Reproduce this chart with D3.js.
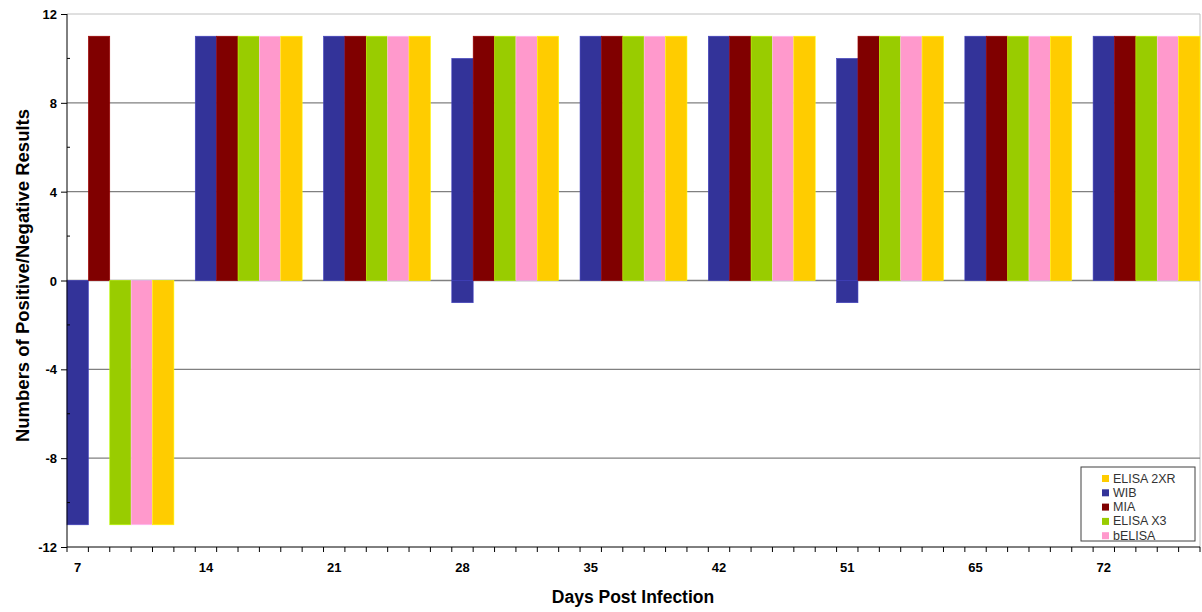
<!DOCTYPE html>
<html>
<head>
<meta charset="utf-8">
<script src="https://cdn.jsdelivr.net/npm/d3@7"></script>
<style>
  body { margin: 0; background: #fff; }
  text { font-family: Arial, "Liberation Sans", sans-serif; }
</style>
</head>
<body>
<svg id="chart" width="1202" height="612"></svg>
<script>
// data
DAYS = ["7", "14", "21", "28", "35", "42", "51", "65", "72"]
SERIES = ["WIB", "MIA", "ELISA X3", "bELISA", "ELISA 2XR"]
COLORS = ["#333399", "#800000", "#99cc00", "#ff99cc", "#ffcc00"]
LEGEND_ORDER = ["ELISA 2XR", "WIB", "MIA", "ELISA X3", "bELISA"]
Y_TICKS = [12, 8, 4, 0, -4, -8, -12]

// positive results (up) and negative results (down), one row per series
POSITIVE = [
  [0, 11, 11, 10, 11, 11, 10, 11, 11],
  [11, 11, 11, 11, 11, 11, 11, 11, 11],
  [0, 11, 11, 11, 11, 11, 11, 11, 11],
  [0, 11, 11, 11, 11, 11, 11, 11, 11],
  [0, 11, 11, 11, 11, 11, 11, 11, 11]
]
NEGATIVE = [
  [-11, 0, 0, -1, 0, 0, -1, 0, 0],
  [0, 0, 0, 0, 0, 0, 0, 0, 0],
  [-11, 0, 0, 0, 0, 0, 0, 0, 0],
  [-11, 0, 0, 0, 0, 0, 0, 0, 0],
  [-11, 0, 0, 0, 0, 0, 0, 0, 0]
]

var margin = {left: 67, right: 2, top: 14, bottom: 65}
var svg = d3.select("#chart")
var W = 1202, H = 612
var x0 = d3.scaleBand().domain(DAYS)
  .range([margin.left, W - margin.right])
  .paddingInner(1 / 6).paddingOuter(0)
var x1 = d3.scaleBand().domain(SERIES).range([0, x0.bandwidth()])
var y = d3.scaleLinear().domain([-12, 12]).range([H - margin.bottom, margin.top])
var color = d3.scaleOrdinal().domain(SERIES).range(COLORS)

// plot frame + gridlines
svg.append("line")
  .attr("x1", margin.left).attr("x2", W - margin.right)
  .attr("y1", y(12)).attr("y2", y(12))
  .style("stroke", "#c0c0c0").style("stroke-width", 1)
svg.append("line")
  .attr("x1", W - margin.right).attr("x2", W - margin.right)
  .attr("y1", y(12)).attr("y2", y(-12))
  .style("stroke", "#c0c0c0").style("stroke-width", 1)

svg.append("g")
  .selectAll("line")
  .data([8, 4, 0, -4, -8])
  .enter()
  .append("line")
    .attr("x1", margin.left).attr("x2", W - margin.right)
    .attr("y1", function(d){ return y(d) })
    .attr("y2", function(d){ return y(d) })
    .style("stroke", "#808080").style("stroke-width", 1.3)

// bars
var rows = []
SERIES.forEach(function(s, si){
  DAYS.forEach(function(d, di){
    if (POSITIVE[si][di] !== 0) rows.push({day: d, series: s, v: POSITIVE[si][di]})
    if (NEGATIVE[si][di] !== 0) rows.push({day: d, series: s, v: NEGATIVE[si][di]})
  })
})

svg.append("g")
  .selectAll("rect")
  .data(rows)
  .enter()
  .append("rect")
    .attr("x", function(d){ return x0(d.day) + x1(d.series) })
    .attr("width", x1.bandwidth())
    .attr("y", function(d){ return y(Math.max(0, d.v)) })
    .attr("height", function(d){ return Math.abs(y(d.v) - y(0)) })
    .attr("fill", function(d){ return color(d.series) })
    .style("stroke", function(d){ return d3.color(color(d.series)).brighter(0.6) })
    .style("stroke-width", 0.6)

// y axis
var yAxis = d3.axisLeft(y).tickValues(Y_TICKS).tickSize(6).tickPadding(4)
  .tickFormat(function(d){ return String(d) })
var gy = svg.append("g")
  .attr("transform", "translate(" + margin.left + ",0)")
  .call(yAxis)
gy.select(".domain").style("stroke", "#000").attr("d", "M0," + y(12) + "V" + y(-12))
gy.selectAll("text").style("font-size", "13px").style("fill", "#000")
  .style("font-weight", "bold").attr("dy", "0.35em")

gy.selectAll(".minor")
  .data([10, 6, 2, -2, -6, -10])
  .enter()
  .append("line")
    .attr("class", "minor")
    .attr("x1", 0).attr("x2", 3)
    .attr("y1", function(d){ return y(d) })
    .attr("y2", function(d){ return y(d) })
    .style("stroke", "#000")

// x axis: tick mark at each bar boundary
var bw = x1.bandwidth()
var xTicks = []
DAYS.forEach(function(d, i){
  for (var k = 0; k <= 5; k++) xTicks.push(x0(d) + k * bw)
})
var gx = svg.append("g")
gx.append("line")
  .attr("x1", margin.left).attr("x2", W - margin.right)
  .attr("y1", y(-12)).attr("y2", y(-12))
  .style("stroke", "#000")
gx.selectAll(".tk")
  .data(xTicks)
  .enter()
  .append("line")
    .attr("class", "tk")
    .attr("x1", function(d){ return d }).attr("x2", function(d){ return d })
    .attr("y1", y(-12)).attr("y2", y(-12) + 5)
    .style("stroke", "#000")
gx.selectAll("text")
  .data(DAYS)
  .enter()
  .append("text")
    .attr("x", function(d){ return x0(d) + bw / 2 })
    .attr("y", 572)
    .attr("text-anchor", "middle")
    .style("font-size", "13px")
    .style("font-weight", "bold")
    .text(function(d){ return d })

// axis titles
svg.append("text")
  .attr("x", 633).attr("y", 603)
  .attr("text-anchor", "middle")
  .style("font-size", "17.5px").style("font-weight", "bold")
  .text("Days Post Infection")
svg.append("text")
  .attr("transform", "translate(29," + (y(0) - 5) + ") rotate(-90)")
  .attr("text-anchor", "middle")
  .style("font-size", "18.5px").style("font-weight", "bold")
  .text("Numbers of Positive/Negative Results")

// legend
var lg = svg.append("g").attr("transform", "translate(1081,467)")
lg.append("rect")
  .attr("width", 114).attr("height", 74)
  .attr("fill", "#fff").style("stroke", "#404040")
lg.selectAll(".item")
  .data(LEGEND_ORDER)
  .enter()
  .append("g")
    .attr("class", "item")
    .attr("transform", function(d, i){ return "translate(21," + (8 + i * 14.3) + ")" })
  .call(function(g){
    g.append("rect").attr("width", 7).attr("height", 7)
      .attr("fill", function(d){ return color(d) })
    g.append("text").attr("x", 11).attr("y", 7.5)
      .style("font-size", "12.5px").style("fill", "#333")
      .text(function(d){ return d })
  })
</script>
</body>
</html>
